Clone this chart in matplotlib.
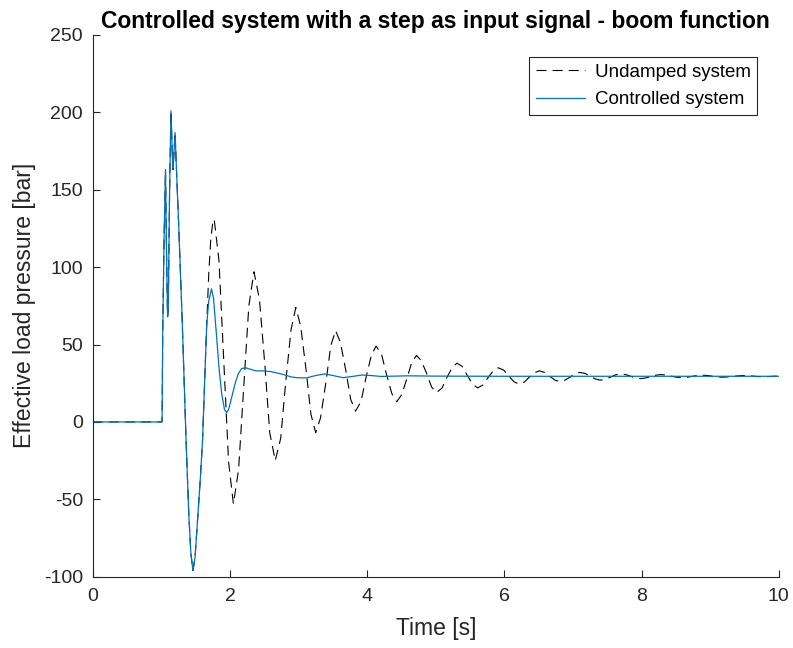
import matplotlib
matplotlib.use("Agg")
import matplotlib.pyplot as plt

plt.rcParams['font.family'] = ['Liberation Sans', 'DejaVu Sans']
plt.rcParams['axes.unicode_minus'] = False

# part common to both responses (step at t = 1 s)
t_common = [0.0, 1.0, 1.01, 1.02, 1.04, 1.06, 1.075, 1.09, 1.10, 1.12, 1.14, 1.16,
            1.17, 1.20, 1.22, 1.25, 1.30, 1.36, 1.40, 1.43, 1.46, 1.49, 1.53,
            1.57, 1.60, 1.63, 1.66]
p_common = [0, 0, 0, 60, 120, 163, 110, 68, 72, 150, 201, 172,
            163, 187, 163, 130, 70, -12, -60, -85, -96, -88, -62,
            -35, -12, 25, 62]

# undamped system after it separates
t_undamped = [1.69, 1.72, 1.75, 1.77, 1.84, 1.91, 1.98, 2.05,
              2.125, 2.20, 2.275, 2.35, 2.43, 2.51, 2.58, 2.66,
              2.74, 2.81, 2.89, 2.96, 3.03, 3.11, 3.18, 3.25,
              3.32, 3.40, 3.47, 3.54, 3.61, 3.69, 3.76, 3.83,
              3.91, 3.98, 4.06, 4.13, 4.21, 4.28, 4.36, 4.43,
              4.50, 4.58, 4.65, 4.72, 4.79, 4.87, 4.94, 5.01,
              5.09, 5.16, 5.24, 5.31, 5.39, 5.46, 5.54, 5.61,
              5.69, 5.76, 5.84, 5.91, 5.99, 6.06, 6.14, 6.21,
              6.29, 6.36, 6.44, 6.51, 6.59, 6.66, 6.74, 6.81,
              6.88, 6.96, 7.03, 7.10, 7.18, 7.25, 7.33, 7.40,
              7.47, 7.55, 7.62, 7.69, 7.77, 7.84, 7.92, 7.99,
              8.06, 8.14, 8.21, 8.28, 8.36, 8.43, 8.51, 8.58,
              8.66, 8.73, 8.81, 8.88, 8.96, 9.03, 9.11, 9.18,
              9.25, 9.33, 9.40, 9.47, 9.55, 9.62, 9.70, 9.77,
              9.85, 9.92, 10.0]
p_undamped = [95, 118, 129, 131, 104, 39, -26, -53,
              -31, 22, 75, 97, 79, 36, -7, -25,
              -10.5, 24.5, 59.5, 74, 62, 33.5, 5, -7,
              2.6, 26, 49.4, 59, 51.4, 33, 14.6, 7,
              13.1, 28, 42.9, 49, 43.7, 31, 18.3, 13,
              17.4, 28, 38.6, 43, 39.5, 31, 22.5, 19,
              21.8, 28.5, 35.2, 38, 35.7, 30, 24.3, 22,
              23.9, 28.5, 33.1, 35, 33.5, 29.8, 26, 24.5,
              25.7, 28.8, 31.8, 33, 32, 29.5, 27, 26,
              26.9, 29, 31.1, 32, 31.3, 29.5, 27.7, 27,
              27.6, 29, 30.4, 31, 30.6, 29.5, 28.4, 28,
              28.4, 29.3, 30.2, 30.6, 30.3, 29.6, 28.9, 28.6,
              28.8, 29.4, 30, 30.2, 30, 29.55, 29.1, 28.9,
              29.1, 29.45, 29.8, 30, 29.9, 29.6, 29.3, 29.2,
              29.3, 29.5, 29.6]

# controlled system after it separates
t_controlled = [1.69, 1.73, 1.76, 1.80, 1.84, 1.88, 1.92, 1.95, 1.98, 2.02,
                2.07, 2.12, 2.17, 2.23, 2.30, 2.38, 2.48, 2.60, 2.75, 2.90,
                3.00, 3.12, 3.25, 3.38, 3.50, 3.65, 3.80, 3.92, 4.05, 4.20,
                4.40, 4.60, 5.00, 6.00, 8.00, 10.0]
p_controlled = [78, 86, 80, 58, 35, 18, 8, 6, 8, 15,
                24, 31, 34.5, 35, 34, 33, 33, 32.5, 31, 29,
                28.5, 28.5, 30, 31, 30, 28.6, 29.5, 30.3, 30, 29.4,
                29.6, 29.8, 29.6, 29.5, 29.5, 29.5]

fig = plt.figure(figsize=(7.93, 6.48), dpi=100)
ax = fig.add_axes([0.117, 0.110, 0.865, 0.836])

ax.plot(t_common + t_undamped, p_common + p_undamped, color="black",
        linewidth=0.8, linestyle=(0, (9, 5.5)), label="Undamped system")
ax.plot(t_common + t_controlled, p_common + p_controlled, color="#0072BD",
        linewidth=0.9, label="Controlled system")

ax.set_xlim(0, 10)
ax.set_ylim(-100, 250)
ax.set_xticks(range(0, 11, 2))
ax.set_yticks(range(-100, 251, 50))
for s in ["top", "right"]:
    ax.spines[s].set_visible(False)
for s in ["left", "bottom"]:
    ax.spines[s].set_color("#262626")
    ax.spines[s].set_linewidth(0.8)
ax.tick_params(direction="in", length=5, width=0.8, colors="#262626",
               labelsize=14, labelcolor="#262626")
ax.tick_params(axis="x", pad=8)
ax.tick_params(axis="y", pad=7)

ax.set_xlabel("Time [s]", fontsize=16.5, color="#262626", labelpad=9)
ax.set_ylabel("Effective load pressure [bar]", fontsize=16.5, color="#262626",
              labelpad=6)
ax.set_title("Controlled system with a step as input signal - boom function",
             fontsize=16.5, fontweight="bold", pad=5)

leg = ax.legend(loc="upper right", bbox_to_anchor=(0.969, 0.959), fontsize=13.5,
                fancybox=False, framealpha=1, edgecolor="#262626",
                handlelength=2.6, borderpad=0.35, labelspacing=0.55,
                handletextpad=0.55, borderaxespad=0)
leg.get_frame().set_linewidth(0.8)

fig.savefig("out.png", dpi=100)
